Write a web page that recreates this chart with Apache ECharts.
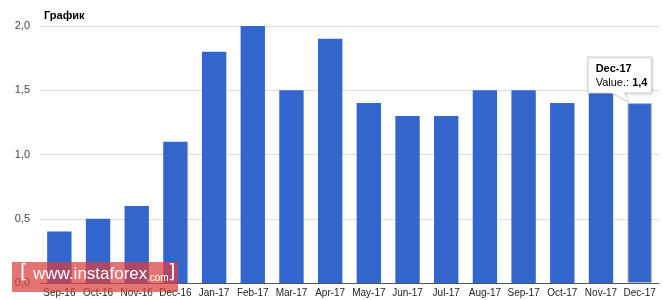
<!DOCTYPE html>
<html><head><meta charset="utf-8">
<script src="https://cdn.jsdelivr.net/npm/echarts@6/dist/echarts.min.js"></script>
<style>html,body{margin:0;padding:0;background:#fff}#c{width:663px;height:300px}</style>
</head><body><div id="c"></div>
<script>
const categories = ['Sep-16','Oct-16','Nov-16','Dec-16','Jan-17','Feb-17','Mar-17','Apr-17','May-17','Jun-17','Jul-17','Aug-17','Sep-17','Oct-17','Nov-17','Dec-17'];
const values = [0.4,0.5,0.6,1.1,1.8,2.0,1.5,1.9,1.4,1.3,1.3,1.5,1.5,1.4,1.5,1.4];
const yTicks = [0, 0.5, 1.0, 1.5, 2.0];
const tipIndex = 15;

(function () {
const chart = echarts.init(document.getElementById('c'));
const fmt = v => v.toFixed(1).replace('.', ',');
chart.setOption({
  animation: false,
  title: {text: 'График', left: 39, top: 5, textStyle: {fontFamily: 'Liberation Sans, Arial', fontSize: 11, fontWeight: 'bold', color: '#000'}},
  grid: {left: 40, right: 4, top: 26, bottom: 17},
  xAxis: {type: 'category', data: categories,
    axisTick: {show: false},
    axisLine: {lineStyle: {color: '#555', width: 1}},
    axisLabel: {color: '#222', fontSize: 10, fontFamily: 'Liberation Sans, Arial', margin: 5, interval: 0}},
  yAxis: {type: 'value', min: yTicks[0], max: yTicks[yTicks.length-1], interval: 0.5,
    axisLine: {show: false}, axisTick: {show: false},
    axisLabel: {color: '#444', fontSize: 11, fontFamily: 'Liberation Sans, Arial', margin: 10, formatter: fmt},
    splitLine: {lineStyle: {color: '#dcdcdc', width: 1}}},
  series: [{type: 'bar', barCategoryGap: '37%',
    data: values.map((v, i) => i === tipIndex ? {value: v, itemStyle: {borderColor: '#bbb', borderWidth: 1}} : v),
    itemStyle: {color: '#3366cc'}}]
});

const p = chart.convertToPixel({gridIndex: 0}, [tipIndex, values[tipIndex]]);
const cx = p[0], ty = p[1];
const bx = cx - 52, by = ty - 46, bw = 64, bh = 36;
const wm = (txt, x, size, fam) => ({type: 'text', z: 111, style: {text: txt, x: x, y: 283, textBaseline: 'alphabetic', verticalAlign: 'bottom', fontSize: size, fontFamily: fam || 'Liberation Sans, Arial', fill: '#fff'}});
chart.setOption({graphic: [
  {type: 'polygon', z: 100, shape: {points: [[cx-30, by+bh-1], [cx-15, by+bh-1], [cx-11, ty-1]]}, style: {fill: '#fff', stroke: '#ccc', lineWidth: 1}},
  {type: 'rect', z: 100, shape: {x: bx, y: by, width: bw, height: bh}, style: {fill: '#fff', stroke: '#ccc', lineWidth: 1, shadowBlur: 3, shadowColor: 'rgba(0,0,0,0.15)', shadowOffsetX: 1, shadowOffsetY: 1}},
  {type: 'polygon', z: 101, shape: {points: [[cx-29, by+bh-1], [cx-16, by+bh-1], [cx-12, ty-3]]}, style: {fill: '#fff'}},
  {type: 'text', z: 102, left: bx + 8, top: by + 6, style: {text: categories[tipIndex], font: 'bold 11px Liberation Sans, Arial', fill: '#000'}},
  {type: 'text', z: 102, left: bx + 8, top: by + 20, style: {
    text: '{a|Value.: }{b|' + fmt(values[tipIndex]) + '}',
    rich: {a: {fontSize: 11, fontFamily: 'Liberation Sans, Arial', color: '#444'}, b: {fontSize: 11, fontWeight: 'bold', fontFamily: 'Liberation Sans, Arial', color: '#000'}}}},
  {type: 'rect', z: 110, shape: {x: 12, y: 262, width: 166, height: 30}, style: {fill: 'rgba(218,62,62,0.72)'}},
  {type: 'group', z: 111, children: [
    wm('[', 20, 19, 'DejaVu Sans'),
    wm('www.instaforex', 33, 17),
    wm('.com', 147, 10),
    wm(']', 168, 19, 'DejaVu Sans')
  ]}
]});
})();
</script></body></html>
